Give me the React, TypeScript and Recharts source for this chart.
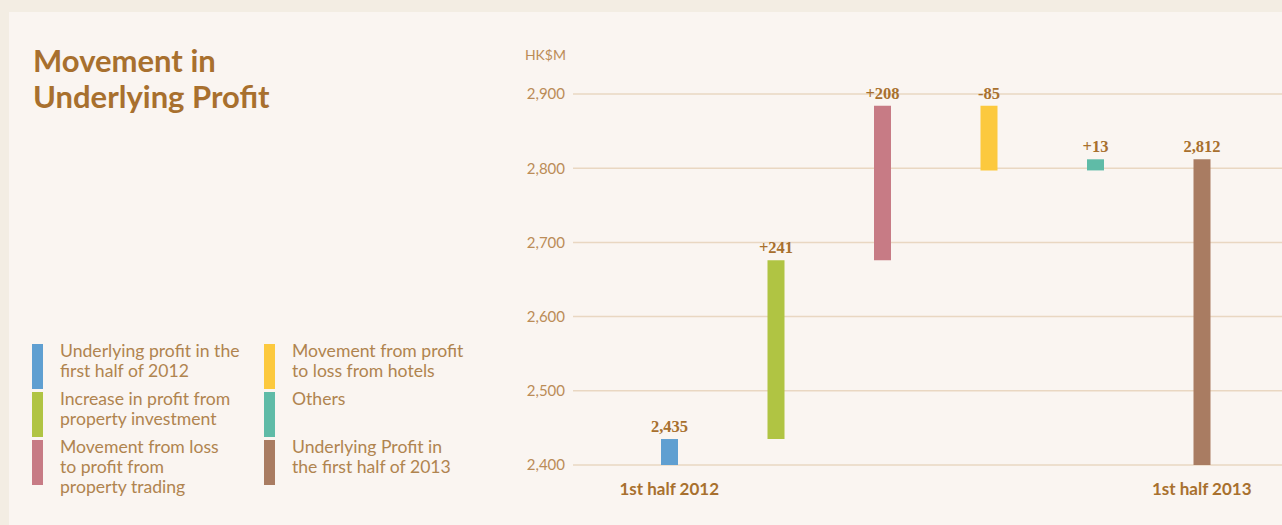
import React from "react";
import { BarChart, Bar, XAxis, YAxis, CartesianGrid, Cell, LabelList } from "recharts";

// waterfall steps, 1st half 2012 -> 1st half 2013 (HK$M)
const categories = ["h1-2012", "investment", "trading", "hotels", "others", "h1-2013"];
const lows = [2400, 2435, 2676, 2797, 2797, 2400];
const highs = [2435, 2676, 2884, 2884, 2812, 2812];
const barLabels = ["2,435", "+241", "+208", "-85", "+13", "2,812"];
const xTickLabels = ["1st half 2012", "", "", "", "", "1st half 2013"];
const yTicks = [2400, 2500, 2600, 2700, 2800, 2900];
const colors = ["#5f9fd1", "#b0c443", "#c77b85", "#fcc93e", "#5fbba7", "#a97c62"];
const legendNames = [
  "Underlying profit in the\nfirst half of 2012",
  "Increase in profit from\nproperty investment",
  "Movement from loss\nto profit from\nproperty trading",
  "Movement from profit\nto loss from hotels",
  "Others",
  "Underlying Profit in\nthe first half of 2013",
];

const data = categories.map((name, i) => ({
  name,
  range: [lows[i], highs[i]],
  label: barLabels[i],
}));

const brown = "#a8702e";
const tickBrown = "#bb8c57";
const font = "Lato, 'Open Sans', sans-serif";

function LegendItem({ i }: { i: number }) {
  return (
    <div style={{ display: "flex", height: 48 }}>
      <div style={{ width: 11, height: 45, background: colors[i], flexShrink: 0 }} />
      <div
        style={{
          marginLeft: 17,
          whiteSpace: "pre-line",
          fontSize: 17.6,
          lineHeight: "20px",
          marginTop: -3,
          color: "#b0844f",
        }}
      >
        {legendNames[i]}
      </div>
    </div>
  );
}

export default function App() {
  return (
    <div
      style={{
        position: "fixed",
        left: 0,
        top: 0,
        width: 1282,
        height: 525,
        background: "#f3ede3",
        fontFamily: font,
        overflow: "hidden",
      }}
    >
      <div
        style={{
          position: "absolute",
          left: 9,
          top: 12,
          width: 1273,
          height: 513,
          background: "#faf5f1",
        }}
      />
      <div
        style={{
          position: "absolute",
          left: 33,
          top: 42,
          fontSize: 31,
          fontWeight: 700,
          lineHeight: "36px",
          color: brown,
        }}
      >
        Movement in
        <br />
        Underlying Profit
      </div>
      <div style={{ position: "absolute", left: 32, top: 344, display: "flex" }}>
        <div style={{ width: 232 }}>
          {[0, 1, 2].map((i) => (
            <LegendItem key={i} i={i} />
          ))}
        </div>
        <div>
          {[3, 4, 5].map((i) => (
            <LegendItem key={i} i={i} />
          ))}
        </div>
      </div>
      <div
        style={{
          position: "absolute",
          left: 466,
          width: 100,
          top: 46,
          textAlign: "right",
          fontSize: 14,
          color: tickBrown,
        }}
      >
        HK$M
      </div>
      <div style={{ position: "absolute", left: 0, top: 0 }}>
        <BarChart
          width={1282}
          height={525}
          data={data}
          margin={{ top: 94, right: 0, bottom: 30, left: 480 }}
        >
          <CartesianGrid vertical={false} stroke="#e9d7c2" strokeWidth={1.5} />
          <XAxis
            dataKey="name"
            interval={0}
            axisLine={false}
            tickLine={false}
            tickMargin={12}
            padding={{ left: 43, right: 27 }}
            tickFormatter={(_v, i) => xTickLabels[i]}
            tick={{ fontSize: 17, fontWeight: 700, fill: brown, fontFamily: font }}
          />
          <YAxis
            width={93}
            domain={[2400, 2900]}
            ticks={yTicks}
            axisLine={false}
            tickLine={false}
            tickFormatter={(v) => Number(v).toLocaleString("en-US")}
            tick={{ fontSize: 15, fill: tickBrown, fontFamily: font }}
          />
          <Bar dataKey="range" barSize={17} isAnimationActive={false}>
            {data.map((d, i) => (
              <Cell key={d.name} fill={colors[i]} />
            ))}
            <LabelList
              dataKey="label"
              position="top"
              offset={7}
              fill={brown}
              fontSize={16.5}
              fontWeight={700}
              fontFamily="'Liberation Serif', serif"
            />
          </Bar>
        </BarChart>
      </div>
    </div>
  );
}
